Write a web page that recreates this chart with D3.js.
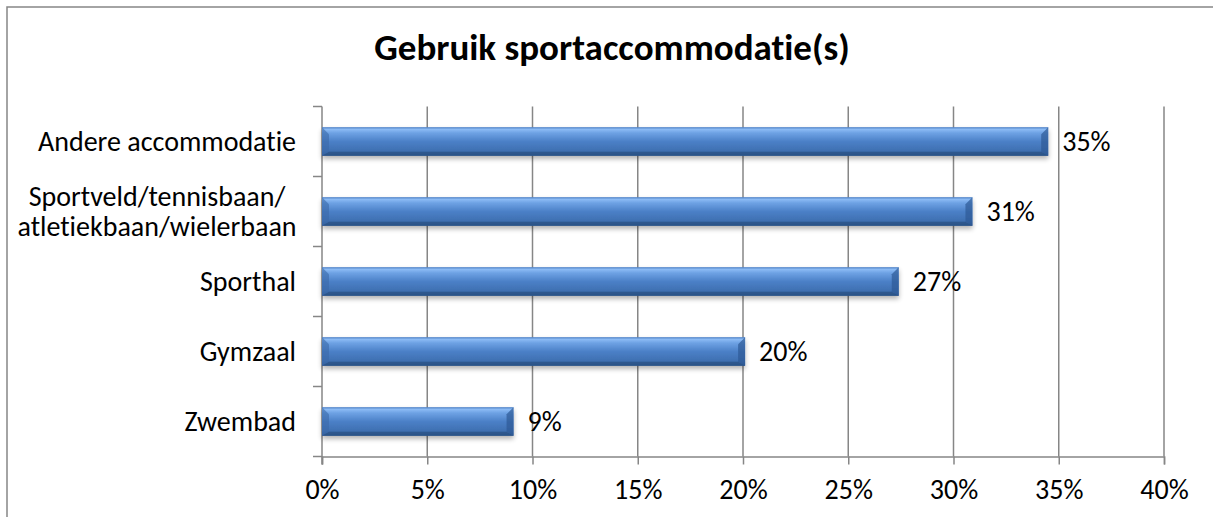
<!DOCTYPE html>
<html>
<head>
<meta charset="utf-8">
<script src="https://cdn.jsdelivr.net/npm/d3@7/dist/d3.min.js"></script>
<style>
  html, body { margin: 0; padding: 0; background: #fff; }
  svg { display: block; }
  text { font-family: Carlito, Lato, "Open Sans", sans-serif; fill: #000; font-variant-ligatures: none; }
</style>
</head>
<body>
<div id="chart"></div>
<script>
// chart data
const categories = [
  ['Andere accommodatie'],
  ['Sportveld/tennisbaan/', 'atletiekbaan/wielerbaan'],
  ['Sporthal'],
  ['Gymzaal'],
  ['Zwembad']
];
const values = [34.5, 30.9, 27.4, 20.1, 9.1];
const valueLabels = ['35%', '31%', '27%', '20%', '9%'];
const xTicks = [0, 5, 10, 15, 20, 25, 30, 35, 40];
const title = 'Gebruik sportaccommodatie(s)';

const width = 1213, height = 517;
const margin = { top: 106.5, left: 322, right: 49, bottom: 60.5 };
const innerW = width - margin.left - margin.right;
const innerH = height - margin.top - margin.bottom;
const fs = 28;

const svg = d3.select('#chart').append('svg')
  .attr('width', width)
  .attr('height', height);

const defs = svg.append('defs');
const grad = defs.append('linearGradient')
  .attr('id', 'barGrad').attr('x1', 0).attr('y1', 0).attr('x2', 0).attr('y2', 1);
[[0, '#4f82c6'], [0.08, '#8bbaf4'], [0.2, '#6ea2e4'], [0.5, '#4b80c7'], [0.82, '#3f70b2'], [1, '#2c5590']]
  .forEach(([o, c]) => grad.append('stop').attr('offset', o).attr('stop-color', c));

const shadow = defs.append('filter').attr('id', 'shadow')
  .attr('x', '-5%').attr('y', '-30%').attr('width', '110%').attr('height', '180%');
shadow.append('feGaussianBlur').attr('in', 'SourceAlpha').attr('stdDeviation', 2.5);
shadow.append('feOffset').attr('dx', 0).attr('dy', 3).attr('result', 'b');
shadow.append('feComponentTransfer').append('feFuncA').attr('type', 'linear').attr('slope', 0.3);
const merge = shadow.append('feMerge');
merge.append('feMergeNode');
merge.append('feMergeNode').attr('in', 'SourceGraphic');

// outer chart border (runs past the picture on right and bottom)
svg.append('rect')
  .attr('x', 7).attr('y', 7)
  .attr('width', width).attr('height', height)
  .attr('fill', 'none').attr('stroke', '#868686').attr('stroke-width', 1.5);

svg.append('text')
  .attr('x', 612).attr('y', 60)
  .attr('text-anchor', 'middle')
  .attr('font-size', 37).attr('font-weight', 700)
  .text(title);

const g = svg.append('g').attr('transform', `translate(${margin.left},${margin.top})`);

const x = d3.scaleLinear().domain([0, 40]).range([0, innerW]);
const y = d3.scaleBand().domain(d3.range(categories.length)).range([0, innerH]).paddingInner(0.59).paddingOuter(0.295);
const band = d3.scaleBand().domain(d3.range(categories.length)).range([0, innerH]);

// vertical gridlines
g.selectAll('.grid').data(xTicks.slice(1)).enter().append('line')
  .attr('x1', d => x(d)).attr('x2', d => x(d))
  .attr('y1', 0).attr('y2', innerH)
  .attr('stroke', '#868686').attr('stroke-width', 1.5);

// x axis
const xAxis = g.append('g').attr('transform', `translate(0,${innerH})`)
  .call(d3.axisBottom(x).tickValues(xTicks).tickSize(8).tickPadding(15).tickFormat(d => d + '%'));
xAxis.select('.domain').attr('stroke', '#868686').attr('stroke-width', 1.5);
xAxis.selectAll('.tick line').attr('stroke', '#868686').attr('stroke-width', 1.5);
xAxis.selectAll('.tick text').attr('font-size', fs).attr('font-family', null);

// y axis line + ticks at band edges
g.append('line').attr('x1', 0).attr('x2', 0).attr('y1', 0).attr('y2', innerH + 8)
  .attr('stroke', '#868686').attr('stroke-width', 1.5);
g.selectAll('.ytick').data(d3.range(categories.length + 1)).enter().append('line')
  .attr('x1', -9).attr('x2', 0)
  .attr('y1', d => d * band.step()).attr('y2', d => d * band.step())
  .attr('stroke', '#868686').attr('stroke-width', 1.5);

// category labels
const labelX = -26;
categories.forEach((lines, i) => {
  const cy = band(i) + band.bandwidth() / 2;
  const lh = 30;
  const multi = lines.length > 1;
  const t = g.append('text')
    .attr('font-size', fs)
    .attr('text-anchor', multi ? 'middle' : 'end');
  lines.forEach((ln, k) => {
    t.append('tspan')
      .attr('x', multi ? -165 : labelX)
      .attr('y', cy + (k - (lines.length - 1) / 2) * lh)
      .attr('dy', '0.35em')
      .text(ln);
  });
});

// bevelled bars
const bev = 7;
const bars = g.selectAll('.bar').data(values).enter().append('g')
  .attr('transform', (d, i) => `translate(0,${y(i)})`)
  .attr('filter', 'url(#shadow)');

bars.each(function(d) {
  const w = x(d), h = y.bandwidth();
  const s = d3.select(this);
  s.append('rect').attr('width', w).attr('height', h).attr('fill', 'url(#barGrad)');
  // bottom bevel
  s.append('polygon').attr('points', `0,${h} ${w},${h} ${w - bev},${h - 4} ${bev},${h - 4}`)
    .attr('fill', '#29507f').attr('opacity', 0.6);
  // left end
  s.append('polygon').attr('points', `0,0 ${bev},${bev} ${bev},${h - 4} 0,${h}`)
    .attr('fill', '#3a69a8').attr('opacity', 0.6);
  // right end
  s.append('polygon').attr('points', `${w},0 ${w - bev},${bev} ${w - bev},${h - 4} ${w},${h}`)
    .attr('fill', '#2e5a96').attr('opacity', 0.7);
});

// value labels
g.selectAll('.val').data(values).enter().append('text')
  .attr('x', d => x(d) + 14)
  .attr('y', (d, i) => y(i) + y.bandwidth() / 2)
  .attr('dy', '0.35em')
  .attr('font-size', fs)
  .text((d, i) => valueLabels[i]);
</script>
</body>
</html>
